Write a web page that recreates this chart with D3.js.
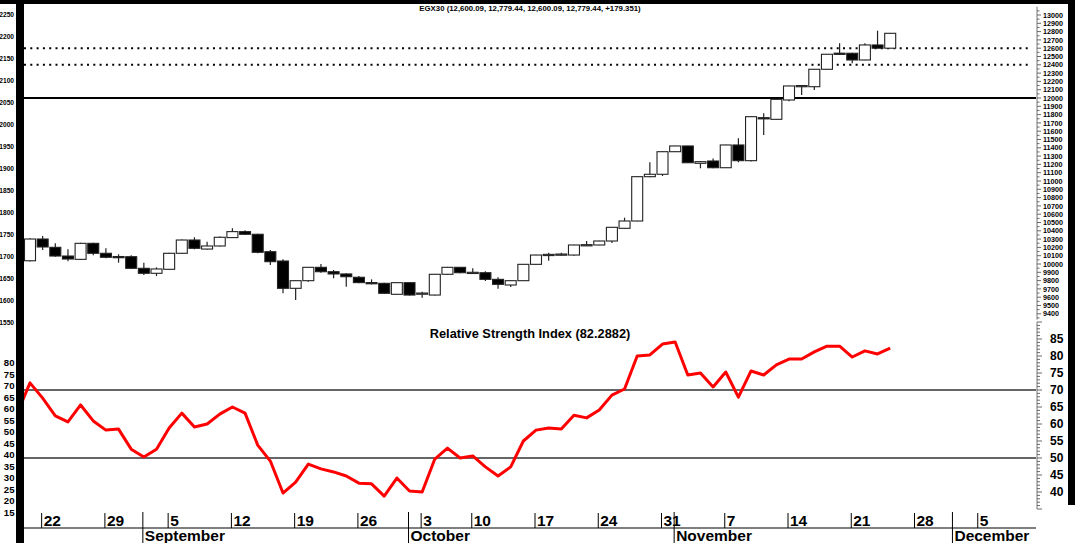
<!DOCTYPE html>
<html><head><meta charset="utf-8">
<script src="https://cdn.jsdelivr.net/npm/d3@7"></script>
<style>html,body{margin:0;padding:0;background:#fff;overflow:hidden}svg{display:block;font-family:"Liberation Sans",Arial,sans-serif;font-weight:bold}</style>
</head><body><svg id="c" width="1075" height="543"></svg>
<script>
// ---- data (daily EGX30 candles, trading-day index 0..68) ----
const opens  = [10039,10301,10201,10096,10056,10249,10129,10090,10088,9948,9888,9936,10129,10289,10180,10217,10318,10390,10358,10148,10036,9707,9799,9960,9907,9880,9840,9776,9767,9635,9775,9645,9626,9876,9960,9895,9895,9815,9747,9799,9996,10108,10116,10108,10229,10229,10277,10430,10518,11052,11081,11353,11422,11213,11241,11160,11434,11245,11763,11743,11976,12145,12136,12346,12540,12539,12458,12639,12600.09];
const highs  = [10310,10337,10249,10177,10255,10255,10189,10117,10105,10016,9960,10135,10295,10322,10269,10330,10430,10406,10365,10169,10056,9805,9965,10000,9928,9890,9855,9815,9775,9780,9780,9667,9880,9965,9965,9948,9912,9840,9805,10000,10112,10136,10136,10232,10277,10280,10445,10558,11055,11225,11356,11425,11425,11240,11270,11437,11514,11778,11815,11987,12148,12157,12349,12530,12659,12545,12660,12811,12779.44];
const lows   = [10030,10168,10088,10032,10050,10105,10069,10016,9940,9867,9855,9930,10125,10177,10175,10210,10312,10350,10129,9988,9647,9566,9787,9895,9828,9726,9768,9755,9640,9630,9620,9594,9620,9870,9890,9890,9795,9703,9722,9795,9990,10040,10100,10100,10220,10225,10253,10425,10515,11045,11060,11350,11218,11153,11155,11157,11225,11235,11554,11740,11960,12036,12096,12343,12520,12418,12455,12600,12600.09];
const closes = [10301,10205,10096,10060,10249,10129,10081,10084,9948,9888,9940,10129,10289,10189,10217,10322,10390,10358,10141,10028,9707,9799,9960,9907,9880,9847,9776,9770,9647,9775,9626,9650,9876,9960,9895,9900,9815,9755,9799,9996,10108,10116,10120,10229,10233,10277,10442,10518,11052,11081,11353,11422,11220,11233,11160,11434,11245,11775,11751,11984,12145,12150,12346,12527,12527,12458,12639,12600.09,12779.44];
// RSI values, first value belongs to trading-day index -1
const rsiValues = [63.3,72.1,67.6,62.4,60.6,65.6,60.9,58.2,58.5,52.6,50.3,52.6,58.8,63.2,59.1,60.0,62.9,65.0,63.2,53.8,49.1,39.7,42.9,48.2,46.8,45.9,44.7,42.6,42.4,38.8,44.1,40.3,40.0,49.7,52.9,50.0,50.6,47.4,44.7,47.4,55.0,58.2,58.8,58.5,62.6,61.8,64.1,68.5,70.3,80.0,80.3,83.5,84.1,74.4,75.0,70.9,75.3,67.9,75.6,74.4,77.4,79.1,79.1,81.2,82.9,82.9,79.7,81.5,80.6,82.29];
const rsiFirstIndex = -1;
const weekTickIndex  = [1,6,11,16,21,26,31,35,40,45,50,55,60,65,70,75];
const weekTickLabels = ["22","29","5","12","19","26","3","10","17","24","31","7","14","21","28","5"];
const monthStartIndex = [9,30,51,73];
const monthLabels = ["September","October","November","December"];
const solidPriceLevels = [12000];
const dottedPriceLevels = [12600,12400];
const rsiLevels = [70,50];
const rightPriceLabels = d3.range(9400,13001,100);
const rightRsiLabels = [85,80,75,70,65,60,55,50,45,40];
const leftPriceLabels = ["2250","2200","2150","2100","2050","2000","1950","1900","1850","1800","1750","1700","1650","1600","1550"];
const leftRsiLabels = [80,75,70,65,60,55,50,45,40,35,30,25,20,15];
const priceTitle = "EGX30 (12,600.09, 12,779.44, 12,600.09, 12,779.44, +179.351)";
const rsiTitle = "Relative Strength Index (82.2882)";

// ---- layout ----
const svg = d3.select("#c");
const plotL = 24, plotR = 1036;
const x = d3.scaleLinear().domain([0,68]).range([30, 30+68*12.65]);
const yP = d3.scaleLinear().domain([9400,13000]).range([313.8,15]);
const yR = d3.scaleLinear().domain([40,85]).range([492,339]);
const yLP = d3.scaleLinear().domain([1550,2250]).range([323,15]);
const yLR = d3.scaleLinear().domain([15,80]).range([512,362.7]);

svg.append("rect").attr("width",1075).attr("height",543).attr("fill","#fff");
svg.append("defs").append("clipPath").attr("id","pc").append("rect")
  .attr("x",plotL).attr("y",4).attr("width",plotR-plotL).attr("height",504);

// frame
svg.append("rect").attr("x",0).attr("y",0).attr("width",1075).attr("height",4).attr("fill","#000");
svg.append("rect").attr("x",16).attr("y",0).attr("width",8).attr("height",543).attr("fill","#000");
svg.append("rect").attr("x",1068).attr("y",0).attr("width",7).attr("height",505).attr("fill","#000");

// titles
svg.append("text").attr("x",530).attr("y",11).attr("text-anchor","middle").attr("font-size",7.8).text(priceTitle);
svg.append("text").attr("x",530).attr("y",338).attr("text-anchor","middle").attr("font-size",12.8).text(rsiTitle);

// reference lines
const g = svg.append("g");
g.selectAll(".sl").data(solidPriceLevels).join("line")
  .attr("x1",plotL).attr("x2",plotR).attr("y1",d=>yP(d)).attr("y2",d=>yP(d))
  .attr("stroke","#000").attr("stroke-width",2);
g.selectAll(".dl").data(dottedPriceLevels).join("line")
  .attr("x1",plotL).attr("x2",plotR-4).attr("y1",d=>yP(d)).attr("y2",d=>yP(d))
  .attr("stroke","#000").attr("stroke-width",2).attr("stroke-dasharray","2,4.3");
g.selectAll(".rl").data(rsiLevels).join("line")
  .attr("x1",plotL).attr("x2",plotR).attr("y1",d=>yR(d)).attr("y2",d=>yR(d))
  .attr("stroke","#333").attr("stroke-width",1.3);

// candles
const candles = opens.map((o,i)=>({i,o,h:highs[i],l:lows[i],c:closes[i]}));
const cg = svg.append("g");
cg.selectAll("line.w").data(candles).join("line")
  .attr("x1",d=>x(d.i)).attr("x2",d=>x(d.i)).attr("y1",d=>yP(d.h)).attr("y2",d=>yP(d.l))
  .attr("stroke","#222").attr("stroke-width",1.2);
cg.selectAll("rect.b").data(candles).join("rect")
  .attr("x",d=>x(d.i)-5.5).attr("width",11)
  .attr("y",d=>yP(Math.max(d.o,d.c)))
  .attr("height",d=>Math.max(1.2, yP(Math.min(d.o,d.c))-yP(Math.max(d.o,d.c))))
  .attr("fill",d=>d.c>=d.o?"#fff":"#000")
  .attr("stroke","#222").attr("stroke-width",1.1);

// RSI line
const rsiPts = rsiValues.map((v,k)=>({i:k+rsiFirstIndex,v}));
svg.append("path").datum(rsiPts).attr("clip-path","url(#pc)")
  .attr("d",d3.line().x(d=>x(d.i)).y(d=>yR(d.v)))
  .attr("fill","none").attr("stroke","#ff0000").attr("stroke-width",3).attr("stroke-linejoin","round");

// right price ruler
const rx = 1037;
svg.append("line").attr("x1",rx).attr("x2",rx).attr("y1",yP(13100)).attr("y2",yP(9330)).attr("stroke","#555").attr("stroke-width",0.8);
svg.append("g").selectAll("line").data(d3.range(9350,13100,50)).join("line")
  .attr("x1",rx).attr("x2",d=>d%100===0?rx+4:rx+2.5).attr("y1",d=>yP(d)).attr("y2",d=>yP(d))
  .attr("stroke","#444").attr("stroke-width",0.8);
svg.append("g").selectAll("text").data(rightPriceLabels).join("text")
  .attr("x",1043).attr("y",d=>yP(d)+2.6).attr("font-size",7.2).text(d=>d);

// right RSI ruler
svg.append("line").attr("x1",rx).attr("x2",rx).attr("y1",yR(90)).attr("y2",yR(35)).attr("stroke","#555").attr("stroke-width",0.8);
svg.append("g").selectAll("line").data(d3.range(35,91,1)).join("line")
  .attr("x1",rx).attr("x2",d=>d%5===0?rx+5:rx+3).attr("y1",d=>yR(d)).attr("y2",d=>yR(d))
  .attr("stroke","#444").attr("stroke-width",0.8);
svg.append("g").selectAll("text").data(rightRsiLabels).join("text")
  .attr("x",1050).attr("y",d=>yR(d)+4.3).attr("font-size",12).text(d=>d);

// left labels
svg.append("g").selectAll("text").data(leftPriceLabels).join("text")
  .attr("x",14).attr("y",d=>yLP(+d)+2.3).attr("text-anchor","end").attr("font-size",6.6).text(d=>d);
svg.append("g").selectAll("text").data(leftRsiLabels).join("text")
  .attr("x",14.5).attr("y",d=>yLR(d)+3.6).attr("text-anchor","end").attr("font-size",9.6).text(d=>d);

// date axis
const ax = svg.append("g");
ax.append("line").attr("x1",plotL).attr("x2",plotR).attr("y1",528).attr("y2",528).attr("stroke","#000").attr("stroke-width",1.2);
ax.selectAll("line.t").data(weekTickIndex).join("line")
  .attr("x1",d=>x(d)-1).attr("x2",d=>x(d)-1).attr("y1",513).attr("y2",528)
  .attr("stroke","#000").attr("stroke-width",1);
ax.selectAll("text.t").data(weekTickIndex).join("text")
  .attr("x",d=>x(d)+1).attr("y",526).attr("font-size",15.5).text((d,k)=>weekTickLabels[k]);
const ag2 = svg.append("g");
ag2.selectAll("line").data(monthStartIndex).join("line")
  .attr("x1",d=>x(d)-1).attr("x2",d=>x(d)-1).attr("y1",512).attr("y2",543)
  .attr("stroke","#000").attr("stroke-width",1);
ag2.selectAll("text").data(monthStartIndex).join("text")
  .attr("x",d=>x(d)+1).attr("y",541).attr("font-size",15.5).text((d,k)=>monthLabels[k]);
</script></body></html>
